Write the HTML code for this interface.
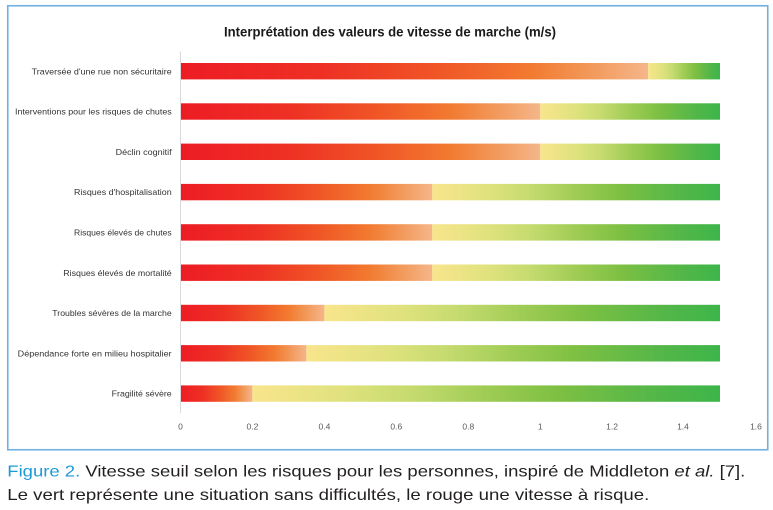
<!DOCTYPE html>
<html><head><meta charset="utf-8"><style>
html,body{margin:0;padding:0;background:#fff;width:773px;height:510px;overflow:hidden}
svg{display:block}
</style></head><body>
<svg width="773" height="510" viewBox="0 0 773 510" xmlns="http://www.w3.org/2000/svg">
<defs>
<linearGradient id="r" x1="0" y1="0" x2="1" y2="0">
<stop offset="0" stop-color="#ed1c24"/>
<stop offset="0.3" stop-color="#ee3024"/>
<stop offset="0.55" stop-color="#f05626"/>
<stop offset="0.75" stop-color="#f27a30"/>
<stop offset="0.88" stop-color="#f29a5c"/>
<stop offset="1" stop-color="#f5b68a"/>
</linearGradient>
<linearGradient id="g" x1="0" y1="0" x2="1" y2="0">
<stop offset="0" stop-color="#f8e58c"/>
<stop offset="0.2" stop-color="#dfe27e"/>
<stop offset="0.35" stop-color="#c3da6e"/>
<stop offset="0.5" stop-color="#9fcc55"/>
<stop offset="0.65" stop-color="#7ec043"/>
<stop offset="0.85" stop-color="#55b748"/>
<stop offset="1" stop-color="#3db54a"/>
</linearGradient>
</defs>
<rect x="7.75" y="5.75" width="760" height="444" fill="#fff" stroke="#6fb0e0" stroke-width="1.6"/>
<text x="224" y="36.7" textLength="332" lengthAdjust="spacingAndGlyphs" font-family="Liberation Sans, sans-serif" font-weight="bold" font-size="14" fill="#1a1a1a">Interprétation des valeurs de vitesse de marche (m/s)</text>
<line x1="180.5" y1="51.5" x2="180.5" y2="413" stroke="#d9d9d9" stroke-width="1"/>
<g font-family="Liberation Sans, sans-serif" font-size="8.6" fill="#333" text-anchor="end">
<text x="171.7" y="74.3" textLength="140" lengthAdjust="spacingAndGlyphs">Traversée d'une rue non sécuritaire</text>
<text x="171.7" y="114.6" textLength="156.7" lengthAdjust="spacingAndGlyphs">Interventions pour les risques de chutes</text>
<text x="171.7" y="154.9" textLength="56" lengthAdjust="spacingAndGlyphs">Déclin cognitif</text>
<text x="171.7" y="195.2" textLength="97.7" lengthAdjust="spacingAndGlyphs">Risques d'hospitalisation</text>
<text x="171.7" y="235.5" textLength="97.7" lengthAdjust="spacingAndGlyphs">Risques élevés de chutes</text>
<text x="171.7" y="275.8" textLength="108.4" lengthAdjust="spacingAndGlyphs">Risques élevés de mortalité</text>
<text x="171.7" y="316.1" textLength="119.4" lengthAdjust="spacingAndGlyphs">Troubles sévères de la marche</text>
<text x="171.7" y="356.4" textLength="154" lengthAdjust="spacingAndGlyphs">Dépendance forte en milieu hospitalier</text>
<text x="171.7" y="396.7" textLength="60" lengthAdjust="spacingAndGlyphs">Fragilité sévère</text>
</g>
<g>
<rect x="181" y="63" width="467.1" height="16.4" fill="url(#r)"/><rect x="648.1" y="63" width="71.9" height="16.4" fill="url(#g)"/>
<rect x="181" y="103.3" width="359.2" height="16.4" fill="url(#r)"/><rect x="540.2" y="103.3" width="179.8" height="16.4" fill="url(#g)"/>
<rect x="181" y="143.6" width="359.2" height="16.4" fill="url(#r)"/><rect x="540.2" y="143.6" width="179.8" height="16.4" fill="url(#g)"/>
<rect x="181" y="183.9" width="251.3" height="16.4" fill="url(#r)"/><rect x="432.3" y="183.9" width="287.7" height="16.4" fill="url(#g)"/>
<rect x="181" y="224.2" width="251.3" height="16.4" fill="url(#r)"/><rect x="432.3" y="224.2" width="287.7" height="16.4" fill="url(#g)"/>
<rect x="181" y="264.5" width="251.3" height="16.4" fill="url(#r)"/><rect x="432.3" y="264.5" width="287.7" height="16.4" fill="url(#g)"/>
<rect x="181" y="304.8" width="143.4" height="16.4" fill="url(#r)"/><rect x="324.4" y="304.8" width="395.6" height="16.4" fill="url(#g)"/>
<rect x="181" y="345.1" width="125.4" height="16.4" fill="url(#r)"/><rect x="306.4" y="345.1" width="413.6" height="16.4" fill="url(#g)"/>
<rect x="181" y="385.4" width="71.4" height="16.4" fill="url(#r)"/><rect x="252.4" y="385.4" width="467.6" height="16.4" fill="url(#g)"/>
</g>
<g font-family="Liberation Sans, sans-serif" font-size="8.5" fill="#595959" text-anchor="middle">
<text x="180.5" y="429.5">0</text>
<text x="252.4" y="429.5">0.2</text>
<text x="324.4" y="429.5">0.4</text>
<text x="396.3" y="429.5">0.6</text>
<text x="468.3" y="429.5">0.8</text>
<text x="540.2" y="429.5">1</text>
<text x="612.1" y="429.5">1.2</text>
<text x="683" y="429.5">1.4</text>
<text x="756" y="429.5">1.6</text>
</g>
<g font-family="Liberation Sans, Arial, sans-serif" font-size="16" fill="#231f20">
<text x="7.3" y="476.7" textLength="738" lengthAdjust="spacingAndGlyphs"><tspan fill="#1b9ad6">Figure 2.</tspan> Vitesse seuil selon les risques pour les personnes, inspiré de Middleton <tspan font-style="italic">et al.</tspan> [7].</text>
<text x="7.3" y="500" textLength="642" lengthAdjust="spacingAndGlyphs">Le vert représente une situation sans difficultés, le rouge une vitesse à risque.</text>
</g>
</svg>
</body></html>
